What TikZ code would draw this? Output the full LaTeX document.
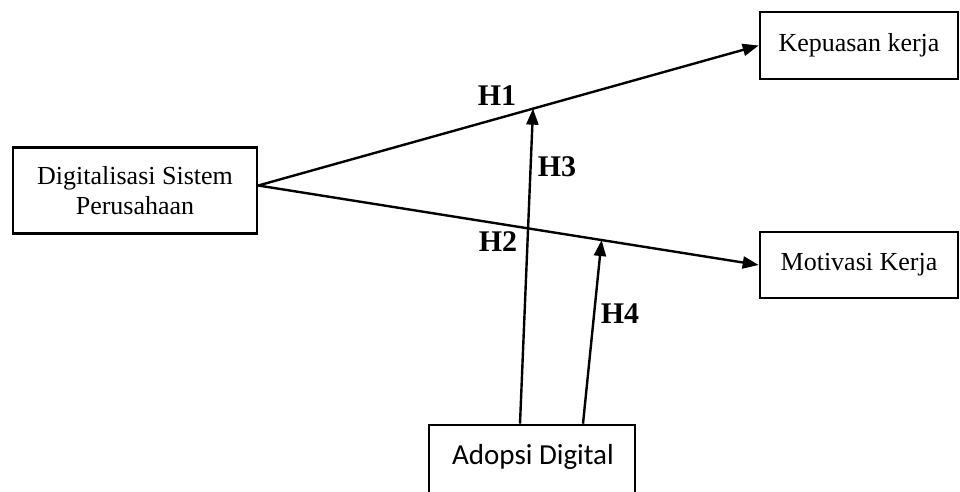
\documentclass[tikz,border=0pt]{standalone}
\usepackage{fontspec}
\setmainfont{Liberation Serif}
\newfontfamily\calibrilike{Carlito}
\usetikzlibrary{arrows.meta,positioning}
\tikzset{
  varbox/.style={draw=black, line width=2.6pt, rectangle, inner sep=0pt, align=center,
    font=\fontsize{26}{30}\selectfont},
  link/.style={line width=2.4pt, -{Triangle[length=16pt,width=12pt]}},
  hlabel/.style={font=\fontsize{30}{32}\selectfont\bfseries, inner sep=0pt}
}
\begin{document}
\begin{tikzpicture}[x=1pt, y=-1pt]
  \useasboundingbox (0,0) rectangle (960,491);
  \clip (0,0) rectangle (960,491);

  % variables
  \node[varbox, minimum width=244pt, minimum height=86pt] (dig) at (135,190.5)
    {Digitalisasi Sistem\\Perusahaan};
  \node[varbox, minimum width=198pt, minimum height=67pt] (kep) at (859,45.5) {Kepuasan kerja};
  \node[varbox, minimum width=198pt, minimum height=66pt] (mot) at (859,265) {Motivasi Kerja};
  \node[varbox, minimum width=206pt, minimum height=100pt] (ado) at (532,475) {};
  \node[font=\calibrilike\fontsize{29}{32}\selectfont, inner sep=0pt] (adotxt) at (533,457) {Adopsi Digital};

  % direct effects
  \coordinate (src) at ([yshift=5pt]dig.east);
  \draw[link] (src) -- (kep.west) coordinate[pos=0.549] (m1);
  \draw[link] (src) -- (mot.west) coordinate[pos=0.686] (m2);

  % moderation paths
  \draw[link] ([xshift=-12pt]ado.north) -- (m1);
  \draw[link] ([xshift=51pt]ado.north) -- (m2);

  % hypothesis labels
  \node[hlabel] (h1) at (497,96) {H1};
  \node[hlabel] (h3) at (557,167) {H3};
  \node[hlabel] (h2) at (498,242) {H2};
  \node[hlabel] (h4) at (620,314) {H4};
\end{tikzpicture}
\end{document}
